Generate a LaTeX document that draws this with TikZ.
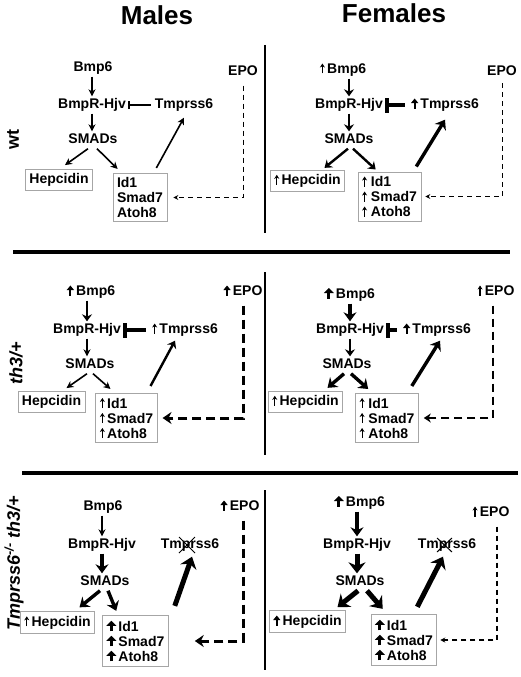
\documentclass[tikz,border=0pt]{standalone}
\usepackage{fontspec}
\setmainfont{Liberation Sans}
\usetikzlibrary{arrows.meta}
% small up arrows in front of the labels
\newcommand{\upthin}{\tikz[baseline=0pt]\draw[line width=1.2pt,-{Stealth[length=4pt,width=5pt]}] (0pt,0pt)--(0pt,10pt);}
\newcommand{\upmid}{\tikz[baseline=0pt]\draw[line width=2pt,-{Triangle[length=4.5pt,width=7pt]}] (0pt,0pt)--(0pt,10pt);}
\newcommand{\upbold}{\tikz[baseline=0pt]\draw[line width=3pt,-{Triangle[length=5pt,width=9.5pt]}] (0pt,0pt)--(0pt,10.5pt);}
\begin{document}
\begin{tikzpicture}[x=1pt,y=-1pt,
  lbl/.style={font=\fontsize{14}{15}\selectfont\bfseries,inner sep=2pt,text height=10pt,text depth=3pt},
  box/.style={font=\fontsize{14}{15}\selectfont\bfseries,draw=gray!70,line width=0.8pt,inner sep=4pt,align=left},
  head/.style={font=\fontsize{26}{30}\selectfont\bfseries},
  row/.style={font=\fontsize{18}{20}\selectfont\bfseries,rotate=90},
  ar/.style={line width=1.6pt,-{Stealth[length=7pt,width=7pt]}},
  arm/.style={line width=2.4pt,-{Stealth[length=7pt,width=10pt]}},
  art/.style={line width=3.4pt,-{Stealth[length=9pt,width=13pt]}},
  arx/.style={line width=5pt,-{Stealth[length=11pt,width=17pt]}},
  inh/.style={line width=1.5pt,-{Bar[width=8pt]}},
  inht/.style={line width=3.5pt,-{Bar[width=15pt]}},
  epo/.style={line width=1pt,dash pattern=on 5pt off 4pt,-{Stealth[length=5pt,width=5pt]}},
  epom/.style={line width=2pt,dash pattern=on 8pt off 5pt,-{Stealth[length=7pt,width=9pt]}},
  epot/.style={line width=3pt,dash pattern=on 9pt off 5pt,-{Stealth[length=9pt,width=12pt]}},
  cross/.style={line width=1pt}]
\useasboundingbox (0,0) rectangle (520,677);

% headers and row labels
\node (males) [head] at (157,15) {Males};
\node (females) [head] at (394,13) {Females};
\node (wt) [row] at (13,140) {wt};
\node (th) [row] at (16,363) {\itshape th3/+};
\node (ko) [row] at (14,563) {\itshape Tmprss6\textsuperscript{-/-} th3/+};

% dividers
\draw[line width=2pt] (265,45) -- (265,233);
\draw[line width=4pt] (13,252) -- (510,252);
\draw[line width=2pt] (265,272) -- (265,455);
\draw[line width=4pt] (22,473) -- (518,473);
\draw[line width=2pt] (265,490) -- (265,670);

% wt, males
\node (bmp1) [lbl] at (93,68) {Bmp6};
\node (hjv1) [lbl] at (92,105) {BmpR-Hjv};
\node (tmp1) [lbl] at (184,105) {Tmprss6};
\node (smad1) [lbl] at (93,140) {SMADs};
\node (hep1) [box] at (59,180) {Hepcidin};
\node (gen1) [box] at (140,197.5) {Id1\\Smad7\\Atoh8};
\node (epo1) [lbl] at (243,72) {EPO};
\draw[ar] (hjv1.north |- bmp1.south) -- (hjv1.north);
\draw[ar] (hjv1.south) -- (hjv1.south |- smad1.north);
\draw[inh,shorten <=2pt] (tmp1) -- (hjv1);
\draw[ar] ([xshift=-5pt]smad1.south) -- ([xshift=6pt,yshift=4pt]hep1.north);
\draw[ar] ([xshift=4pt]smad1.south) -- ([xshift=5pt,yshift=4pt]gen1.north west);
\draw[ar] ([xshift=-11pt,yshift=5pt]gen1.north east) -- ([yshift=-4pt]tmp1.south);
\draw[epo,shorten <=5pt,shorten >=6pt] (epo1) |- (gen1);

% wt, females
\node (bmp2) [lbl] at (343,70) {\upthin\,Bmp6};
\node (hjv2) [lbl] at (349,105) {BmpR-Hjv};
\node (tmp2) [lbl] at (445,105) {\upmid\,Tmprss6};
\node (smad2) [lbl] at (349,140) {SMADs};
\node (hep2) [box] at (307.5,181) {\upthin\,Hepcidin};
\node (gen2) [box] at (389.5,196.5) {\upthin\ Id1\\\upthin\ Smad7\\\upthin\ Atoh8};
\node (epo2) [lbl] at (502,72) {EPO};
\draw[arm] (hjv2.north |- bmp2.south) -- (hjv2.north);
\draw[arm] (hjv2.south) -- (hjv2.south |- smad2.north);
\draw[inht,shorten <=4pt] (tmp2) -- (hjv2);
\draw[arm] ([xshift=-1pt]smad2.south) -- ([xshift=17pt,yshift=2pt]hep2.north);
\draw[arm] ([xshift=4pt]smad2.south) -- ([xshift=18pt,yshift=2pt]gen2.north west);
\draw[art] ([xshift=-5pt,yshift=5pt]gen2.north east) -- ([yshift=-6pt]tmp2.south);
\draw[epo,shorten <=5pt,shorten >=4pt] ([yshift=-6pt]epo2.center) |- (gen2);

% th3/+, males
\node (bmp3) [lbl] at (91,292) {\upmid\,Bmp6};
\node (hjv3) [lbl] at (87,330) {BmpR-Hjv};
\node (tmp3) [lbl] at (185,330) {\upthin\,Tmprss6};
\node (smad3) [lbl] at (90,365) {SMADs};
\node (hep3) [box] at (51.5,402) {Hepcidin};
\node (gen3) [box] at (126.5,418) {\upthin\,Id1\\\upthin\,Smad7\\\upthin\,Atoh8};
\node (epo3) [lbl] at (243,292) {\upmid\,EPO};
\draw[arm] (hjv3.north |- bmp3.south) -- (hjv3.north);
\draw[ar] (hjv3.south) -- (hjv3.south |- smad3.north);
\draw[inht,shorten <=4pt] (tmp3) -- (hjv3);
\draw[ar] ([xshift=-3pt]smad3.south) -- ([xshift=15pt,yshift=3pt]hep3.north);
\draw[ar] ([xshift=3pt]smad3.south) -- ([xshift=15pt,yshift=4pt]gen3.north west);
\draw[arm] ([xshift=-7pt,yshift=7pt]gen3.north east) -- ([xshift=-10pt,yshift=-2pt]tmp3.south);
\draw[epot,shorten <=5pt,shorten >=5pt] (epo3) |- (gen3);

% th3/+, females
\node (bmp4) [lbl] at (349.5,295) {\upbold\,Bmp6};
\node (hjv4) [lbl] at (350,330) {BmpR-Hjv};
\node (tmp4) [lbl] at (437,330) {\upmid\,Tmprss6};
\node (smad4) [lbl] at (347,365) {SMADs};
\node (hep4) [box] at (305.5,402) {\upthin\,Hepcidin};
\node (gen4) [box] at (387,418) {\upthin\ Id1\\\upthin\ Smad7\\\upthin\ Atoh8};
\node (epo4) [lbl] at (496,292) {\upthin\,EPO};
\draw[art] (hjv4.north |- bmp4.south) -- (hjv4.north);
\draw[arm] (hjv4.south) -- (hjv4.south |- smad4.north);
\draw[inht,shorten <=4pt] (tmp4) -- (hjv4);
\draw[art] ([xshift=-3pt]smad4.south) -- ([xshift=22pt,yshift=3pt]hep4.north);
\draw[art] ([xshift=4pt]smad4.south) -- ([xshift=13pt,yshift=4pt]gen4.north west);
\draw[art] ([xshift=-7pt,yshift=7pt]gen4.north east) -- ([xshift=3pt,yshift=-2pt]tmp4.south);
\draw[epom,shorten <=5pt,shorten >=5pt] ([xshift=-3pt]epo4.south) |- (gen4);

% Tmprss6-/- th3/+, males
\node (bmp5) [lbl] at (103,507) {Bmp6};
\node (hjv5) [lbl] at (102,545) {BmpR-Hjv};
\node (tmp5) [lbl] at (190,545) {Tmprss6};
\node (smad5) [lbl] at (105,582) {SMADs};
\node (hep5) [box] at (57.5,622.5) {\upthin\,Hepcidin};
\node (gen5) [box] at (135.5,641) {\upbold\,Id1\\\upbold\,Smad7\\\upbold\,Atoh8};
\node (epo5) [lbl] at (240,507) {\upmid\,EPO};
\draw[ar] (hjv5.north |- bmp5.south) -- (hjv5.north);
\draw[art] (hjv5.south) -- (hjv5.south |- smad5.north);
\draw[cross] ([shift={(-11pt,8pt)}]tmp5.center) -- ([shift={(5pt,-8pt)}]tmp5.center);
\draw[cross] ([shift={(-11pt,-8pt)}]tmp5.center) -- ([shift={(5pt,8pt)}]tmp5.center);
\draw[art] ([xshift=-5pt]smad5.south) -- ([xshift=22pt,yshift=4pt]hep5.north);
\draw[art] ([xshift=3pt]smad5.south) -- ([xshift=14pt,yshift=4pt]gen5.north west);
\draw[arx] ([xshift=6pt,yshift=9pt]gen5.north east) -- ([xshift=2pt,yshift=-3pt]tmp5.south);
\draw[epot,shorten <=5pt,shorten >=26pt] ([xshift=3pt]epo5.south) |- (gen5);

% Tmprss6-/- th3/+, females
\node (bmp6) [lbl] at (359.5,503) {\upbold\,Bmp6};
\node (hjv6) [lbl] at (357,545) {BmpR-Hjv};
\node (tmp6) [lbl] at (447,545) {Tmprss6};
\node (smad6) [lbl] at (360,582) {SMADs};
\node (hep6) [box] at (307.5,621.5) {\upmid\,Hepcidin};
\node (gen6) [box] at (404,640) {\upbold\,Id1\\\upbold\,Smad7\\\upbold\,Atoh8};
\node (epo6) [lbl] at (491,513) {\upthin\,EPO};
\draw[art] (hjv6.north |- bmp6.south) -- (hjv6.north);
\draw[arx] (hjv6.south) -- (hjv6.south |- smad6.north);
\draw[cross] ([shift={(-10pt,7pt)}]tmp6.center) -- ([shift={(5pt,-7pt)}]tmp6.center);
\draw[cross] ([shift={(-10pt,-7pt)}]tmp6.center) -- ([shift={(5pt,7pt)}]tmp6.center);
\draw[arx] ([xshift=-2pt]smad6.south) -- ([xshift=30pt,yshift=3pt]hep6.north);
\draw[arx] ([xshift=7pt]smad6.south) -- ([xshift=12pt,yshift=5pt]gen6.north west);
\draw[arx] ([xshift=-20pt,yshift=7pt]gen6.north east) -- ([xshift=-4pt,yshift=-3pt]tmp6.south);
\draw[epo,line width=1.5pt,shorten <=5pt,shorten >=3pt] ([xshift=6pt]epo6.south) |- (gen6);
\end{tikzpicture}
\end{document}
